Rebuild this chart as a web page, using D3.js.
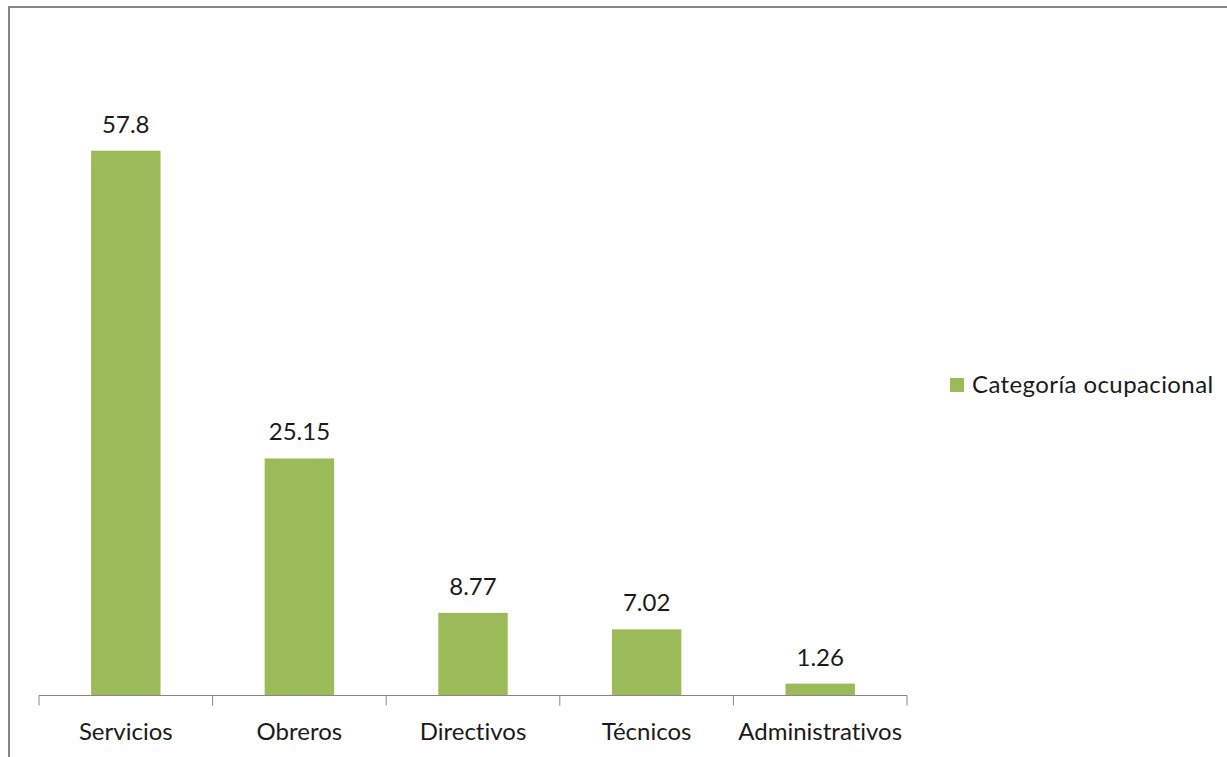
<!DOCTYPE html>
<html>
<head>
<meta charset="utf-8">
<script src="https://cdn.jsdelivr.net/npm/d3@7"></script>
<style>
  html, body { margin: 0; padding: 0; background: #fff; }
  svg { display: block; }
  text { font-family: Lato, "Open Sans", sans-serif; fill: #1a1a1a; font-variant-ligatures: none; }
</style>
</head>
<body>
<svg id="chart" width="1227" height="757"></svg>
<script>
// Occupational category shares
const categories = ["Servicios", "Obreros", "Directivos", "Técnicos", "Administrativos"];
const values = [57.8, 25.15, 8.77, 7.02, 1.26];
const seriesName = "Categoría ocupacional";

const svg = d3.select("#chart");
const W = 1227, H = 757;

// outer chart frame
svg.append("rect")
  .attr("x", 9).attr("y", 7)
  .attr("width", W + 10).attr("height", H + 10)
  .attr("fill", "#fff")
  .attr("stroke", "#868686")
  .attr("stroke-width", 2);

const plot = { left: 39, right: 907, top: 130, bottom: 695.5 };

const x = d3.scaleBand()
  .domain(categories)
  .range([plot.left, plot.right])
  .paddingInner(0.6)
  .paddingOuter(0.3);

const y = d3.scaleLinear()
  .domain([0, 60])
  .range([plot.bottom, plot.top]);

const barColor = "#9bbb59";
const fontSize = 24;

// bars
svg.append("g").selectAll("rect")
  .data(values)
  .join("rect")
  .attr("x", (d, i) => x(categories[i]))
  .attr("y", d => y(d))
  .attr("width", x.bandwidth())
  .attr("height", d => y(0) - y(d))
  .attr("fill", barColor);

// value labels
svg.append("g").selectAll("text")
  .data(values)
  .join("text")
  .attr("x", (d, i) => x(categories[i]) + x.bandwidth() / 2)
  .attr("y", d => y(d) - 18)
  .attr("text-anchor", "middle")
  .attr("font-size", fontSize)
  .text(d => String(d));

// category axis with boundary tick marks
const xAxisG = svg.append("g");
xAxisG.append("line")
  .attr("x1", plot.left).attr("x2", plot.right)
  .attr("y1", plot.bottom).attr("y2", plot.bottom)
  .attr("stroke", "#868686").attr("stroke-width", 1);

const boundaries = d3.range(categories.length + 1).map(i => plot.left + i * (plot.right - plot.left) / categories.length);
xAxisG.selectAll("line.tick")
  .data(boundaries)
  .join("line")
  .attr("class", "tick")
  .attr("x1", d => d).attr("x2", d => d)
  .attr("y1", plot.bottom).attr("y2", plot.bottom + 10)
  .attr("stroke", "#868686").attr("stroke-width", 1);

xAxisG.selectAll("text")
  .data(categories)
  .join("text")
  .attr("x", d => x(d) + x.bandwidth() / 2)
  .attr("y", 740)
  .attr("text-anchor", "middle")
  .attr("font-size", fontSize)
  .text(d => d);

// legend
const legend = svg.append("g").attr("transform", "translate(950,378)");
legend.append("rect")
  .attr("width", 14).attr("height", 14)
  .attr("fill", barColor);
legend.append("text")
  .attr("x", 22).attr("y", 15)
  .attr("font-size", fontSize)
  .attr("letter-spacing", 0.4)
  .text(seriesName);
</script>
</body>
</html>
